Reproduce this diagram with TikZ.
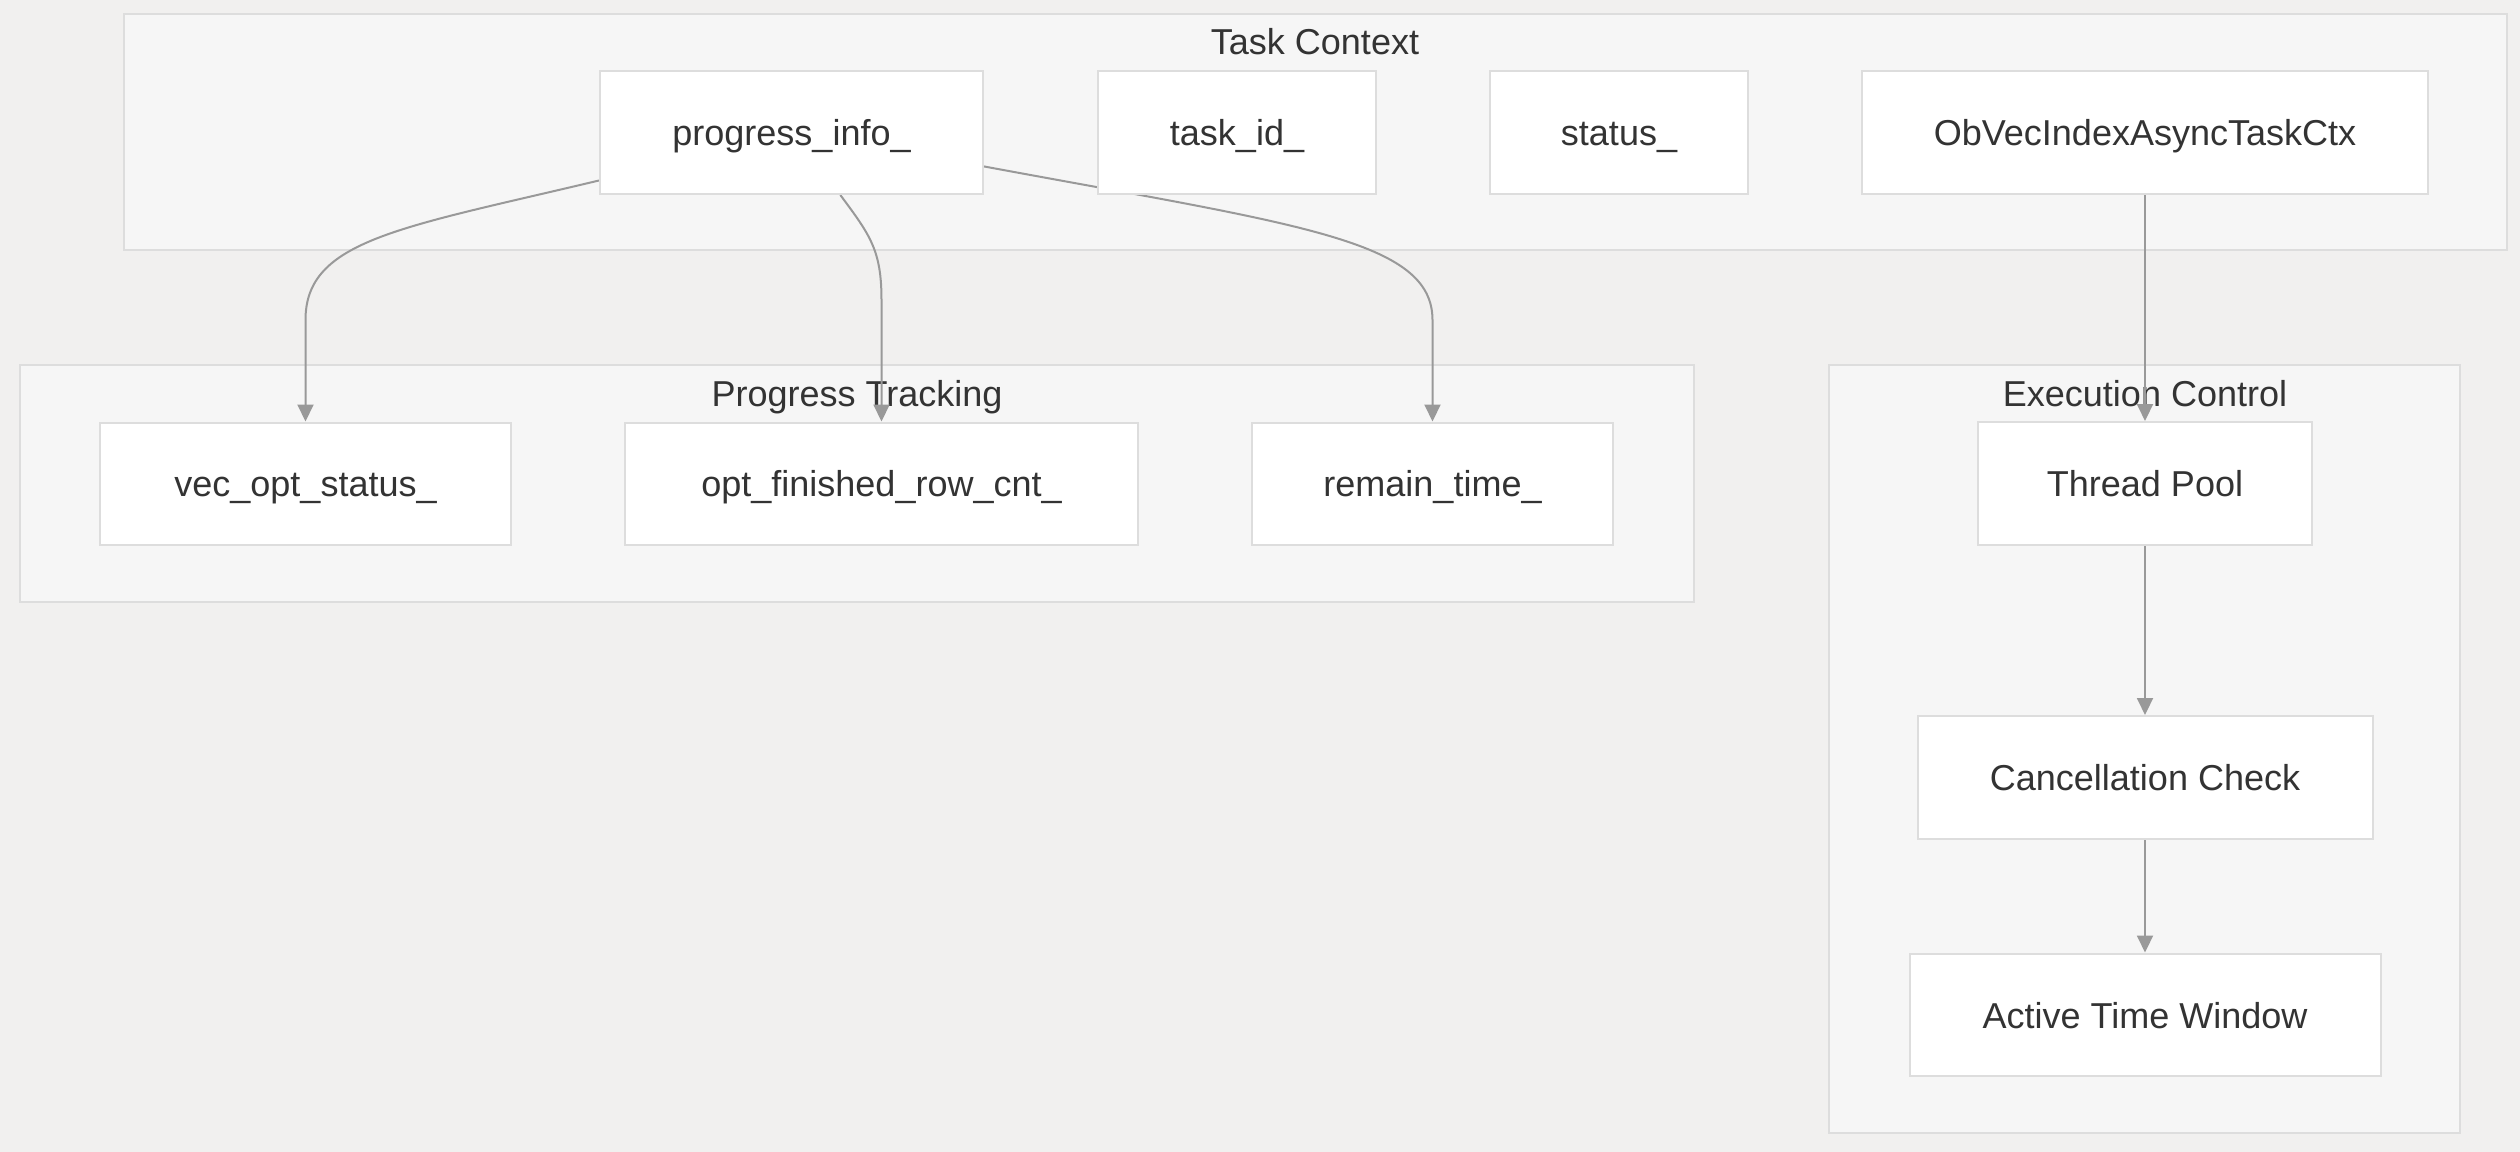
\documentclass[tikz,border=0pt]{standalone}
\usepackage{fontspec}
\setmainfont{Liberation Sans}
\usepackage{tikz}
\usetikzlibrary{arrows.meta}
\pgfdeclarelayer{groups}
\pgfdeclarelayer{links}
\pgfsetlayers{groups,links,main}

\begin{document}
\begin{tikzpicture}
			[x=0.02cm,y=-0.02cm,line cap=round,
			%Styles
			cluster/.style={draw=clusterline,fill=clusterfill,line width=0.04cm},
			cluster title/.style={text=textcol,font=\fontsize{20.5}{24}\selectfont,inner sep=0pt,text height=0.52cm,text depth=0cm},
			field/.style={draw=clusterline,fill=white,line width=0.04cm,minimum width=#1*0.02cm,minimum height=2.46cm,inner sep=0pt,text height=0.52cm,text depth=0cm,text=textcol,font=\fontsize{20.5}{24}\selectfont},
			link/.style={draw=linkcol,line width=0.04cm,-{Triangle[length=0.34cm,width=0.32cm]}}
			]
			
			%Colors
			\definecolor{pagebg}{RGB}{241,240,239}
			\definecolor{clusterfill}{RGB}{246,246,246}
			\definecolor{clusterline}{RGB}{221,221,221}
			\definecolor{textcol}{RGB}{51,51,51}
			\definecolor{linkcol}{RGB}{153,153,153}
			
			\begin{pgfonlayer}{groups}
			\fill[pagebg] (0,0) rectangle (2520,1152);
			\useasboundingbox (0,0) rectangle (2520,1152);
			
			%Groups
			\draw[cluster] (124,14) rectangle (2507,250);
			\draw[cluster] (20,365) rectangle (1694,602);
			\draw[cluster] (1829,365) rectangle (2460,1133);
			
			\node[cluster title] (tctitle) at (1315,42) {Task Context};
			\node[cluster title] (pttitle) at (857,394) {Progress Tracking};
			\node[cluster title] (ectitle) at (2145,394) {Execution Control};
			\end{pgfonlayer}
			
			%Task Context
			\node[field=383] (pinfo) at (791.5,132.5) {progress\_info\_};
			\node[field=278] (taskid) at (1237,132.5) {task\_id\_};
			\node[field=258] (status) at (1619,132.5) {status\_};
			\node[field=566] (ctx) at (2145,132.5) {ObVecIndexAsyncTaskCtx};
			
			%Progress Tracking
			\node[field=411] (vopt) at (305.5,484) {vec\_opt\_status\_};
			\node[field=513] (ofin) at (881.5,484) {opt\_finished\_row\_cnt\_};
			\node[field=361] (rem) at (1432.5,484) {remain\_time\_};
			
			%Execution Control
			\node[field=334] (tpool) at (2145,483.5) {Thread Pool};
			\node[field=455] (cancel) at (2145,777.5) {Cancellation Check};
			\node[field=471] (active) at (2145,1015) {Active Time Window};
			
			%Links
			\begin{pgfonlayer}{links}
			\draw[link] (pinfo.194) .. controls (400,228) and (vopt.north |- 0,240) .. (vopt.north |- 0,320) -- (vopt.north);
			\draw[link] (pinfo.308) .. controls (870,235) and (ofin.north |- 0,250) .. (ofin.north |- 0,300) -- (ofin.north);
			\draw[link] (pinfo.350) .. controls (1300,225) and (rem.north |- 0,240) .. (rem.north |- 0,320) -- (rem.north);
			\draw[link] (ctx) -- (tpool);
			\draw[link] (tpool) -- (cancel);
			\draw[link] (cancel) -- (active);
			\end{pgfonlayer}
		\end{tikzpicture}
\end{document}
